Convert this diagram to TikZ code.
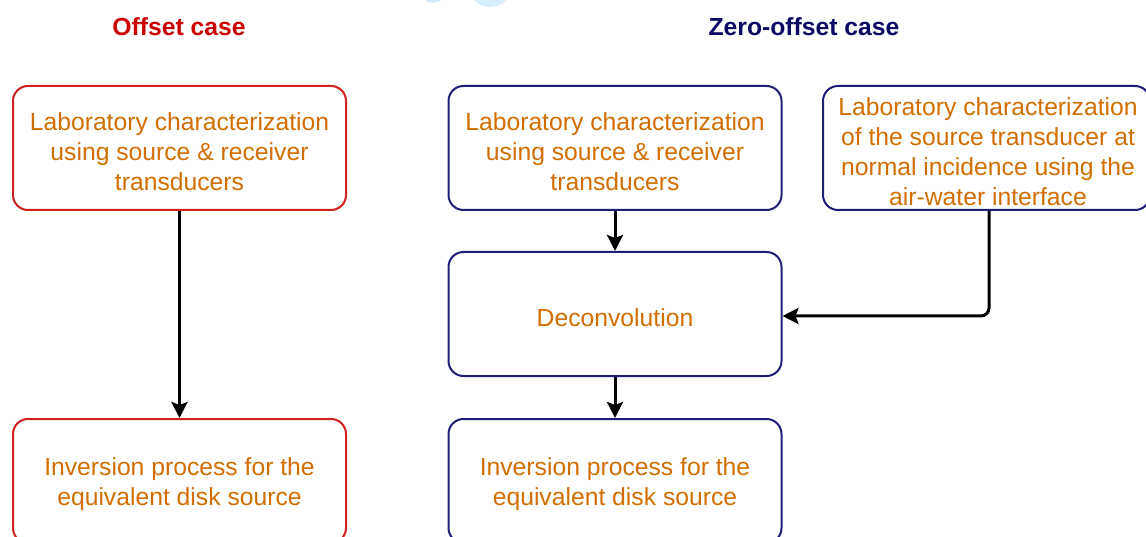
\documentclass[tikz,border=0pt]{standalone}
\usepackage{fontspec}
\setmainfont{Liberation Sans}
\usetikzlibrary{arrows.meta}
\definecolor{offred}{RGB}{208,32,32}
\definecolor{zeronavy}{RGB}{30,30,120}
\definecolor{titlenavy}{RGB}{10,10,100}
\definecolor{titlered}{RGB}{204,0,0}
\definecolor{txtorange}{RGB}{210,110,0}
\definecolor{wmblue}{RGB}{214,238,250}
\tikzset{
  box/.style={draw, line width=2pt, rounded corners=15pt, minimum width=333pt, minimum height=124pt, inner sep=0pt},
  redbox/.style={box, draw=offred},
  bluebox/.style={box, draw=zeronavy},
  boxtext/.style={inner sep=0pt, align=center, text=txtorange, font=\fontsize{24.7}{30}\selectfont, yshift=-3.5pt},
  title/.style={font=\bfseries\fontsize{24.7}{28}\selectfont, inner sep=0pt},
  arr/.style={line width=3pt, -{Stealth[length=16pt,width=16pt,inset=3pt]}}
}
\begin{document}
\begin{tikzpicture}[x=1pt,y=-1pt]
\useasboundingbox (0,0) rectangle (1146,537);
\clip (0,0) rectangle (1146,537);
\fill[wmblue] (490,-15) circle (22);
\fill[wmblue] (433,-10) circle (13);
\node[title, text=titlered] (t1) at (179,27) {Offset case};
\node[title, text=titlenavy] (t2) at (804,27) {Zero-offset case};
\node[redbox] (l1) at (179.5,148) {};
\node[boxtext] (l1t) at (l1.center) {Laboratory characterization\\using source \& receiver\\transducers};
\node[redbox] (l2) at (179.5,481) {};
\node[boxtext] (l2t) at (l2.center) {Inversion process for the\\equivalent disk source};
\node[bluebox] (m1) at (615,148) {};
\node[boxtext] (m1t) at (m1.center) {Laboratory characterization\\using source \& receiver\\transducers};
\node[bluebox] (m2) at (615,314) {};
\node[boxtext] (m2t) at (m2.center) {Deconvolution};
\node[bluebox] (m3) at (615,481) {};
\node[boxtext] (m3t) at (m3.center) {Inversion process for the\\equivalent disk source};
\node[bluebox, minimum width=327pt] (r1) at (986.5,148) {};
\node[boxtext] (r1t) at ([xshift=1.5pt]r1.center) {Laboratory characterization\\of the source transducer at\\normal incidence using the\\air-water interface};
\draw[arr] (l1.south) -- (l2.north);
\draw[arr] (m1.south) -- (m2.north);
\draw[arr] (m2.south) -- (m3.north);
\draw[arr, rounded corners=8pt] ([xshift=2.5pt]r1.south) |- ([yshift=-2pt]m2.east);
\end{tikzpicture}
\end{document}
